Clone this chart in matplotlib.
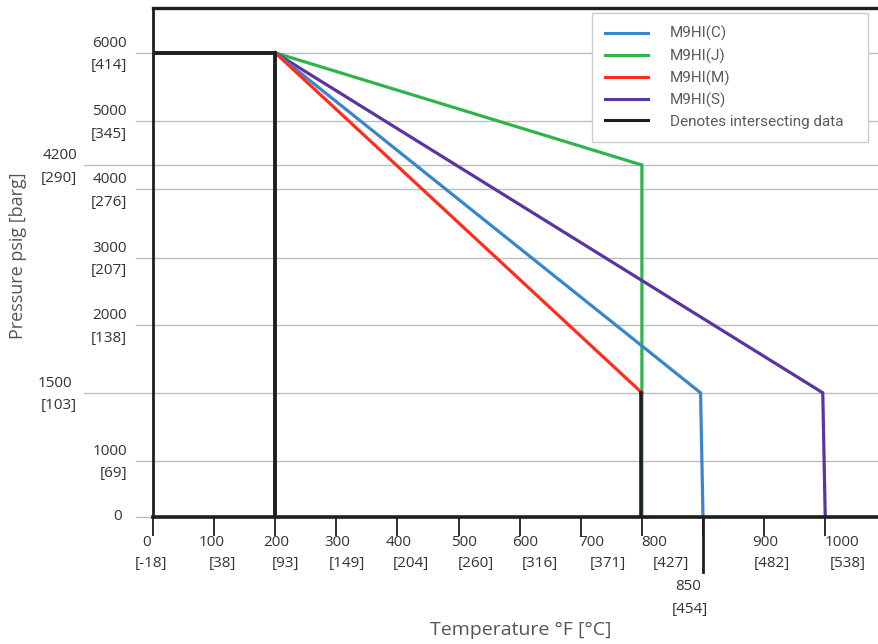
import numpy as np
import matplotlib.pyplot as plt
from matplotlib.lines import Line2D

# pressure-temperature derating, psig vs deg F
temp_C = [200, 848, 850]
pres_C = [6000, 1500, 0]
temp_J = [200, 800, 800]
pres_J = [6000, 4200, 0]
temp_M = [200, 800]
pres_M = [6000, 1500]
temp_S = [200, 996, 1000]
pres_S = [6000, 1500, 0]
# black = intersecting data
temp_K1 = [0, 200, 200]
pres_K1 = [6000, 6000, 0]
temp_K2 = [800, 800]
pres_K2 = [1500, 0]

names = ['M9HI(C)', 'M9HI(J)', 'M9HI(M)', 'M9HI(S)', 'Denotes intersecting data']

xticks_F = [0, 100, 200, 300, 400, 500, 600, 700, 800, 850, 900, 1000]
xticks_C = ['[-18]', '[38]', '[93]', '[149]', '[204]', '[260]', '[316]', '[371]',
            '[427]', '[454]', '[482]', '[538]']
yticks_psig = [0, 1000, 1500, 2000, 3000, 4000, 4200, 5000, 6000]
yticks_barg = ['', '[69]', '[103]', '[138]', '[207]', '[276]', '[290]', '[345]', '[414]']

col_C = '#3a86c8'
col_J = '#2fb44b'
col_M = '#ff2d1e'
col_S = '#5a35a0'
col_K = '#1e1e1e'
txt = '#333333'
font = 'Open Sans'

# the axes of the original chart are not linear: piecewise mapping
x_knots = [0, 100, 200, 300, 400, 500, 600, 700, 800, 850, 900, 1000, 1100]
x_pos = np.arange(len(x_knots), dtype=float)
y_knots = [0, 1000, 1500, 2000, 3000, 4000, 4200, 5000, 6000, 7000]
y_pos = [0, 56.5, 124.2, 191.6, 259.5, 327.6, 352.0, 395.6, 464.2, 532.2]

fx = lambda v: np.interp(v, x_knots, x_pos)
ifx = lambda p: np.interp(p, x_pos, x_knots)
fy = lambda v: np.interp(v, y_knots, y_pos)
ify = lambda p: np.interp(p, y_pos, y_knots)

fig = plt.figure(figsize=(8.79, 6.44), dpi=100)
ax = fig.add_axes([153/879, 1-517/644, 726/879, 509/644])
ax.set_xscale('function', functions=(fx, ifx))
ax.set_yscale('function', functions=(fy, ify))
ax.set_xlim(0, 1088)
ax.set_ylim(0, 6659)

# grid lines reach out into the label area
for v in yticks_psig:
    xmin = -69/726 if v in (1500, 4200) else -17/726
    ax.axhline(v, xmin=xmin, xmax=1, color='#bdbdbd', lw=1.0, clip_on=False, zorder=1)

lw = 2.3
ax.plot(temp_J, pres_J, color=col_J, lw=lw, zorder=3, solid_joinstyle='miter')
ax.plot(temp_S, pres_S, color=col_S, lw=lw, zorder=3, solid_joinstyle='miter')
ax.plot(temp_C, pres_C, color=col_C, lw=lw, zorder=3, solid_joinstyle='miter')
ax.plot(temp_M, pres_M, color=col_M, lw=lw, zorder=3, solid_joinstyle='miter')
ax.plot(temp_K1, pres_K1, color=col_K, lw=2.8, zorder=4, solid_joinstyle='miter')
ax.plot([t - 1.5 for t in temp_K2], pres_K2, color=col_K, lw=2.6, zorder=4)

for s in ['top', 'left', 'bottom']:
    ax.spines[s].set_color(col_K)
ax.spines['top'].set_linewidth(2.4)
ax.spines['bottom'].set_linewidth(2.6)
ax.spines['left'].set_linewidth(2.0)
ax.spines['right'].set_visible(False)
for s in ax.spines.values():
    s.set_zorder(5)

ax.set_xticks(xticks_F, labels=[])
ax.set_yticks([])
ax.minorticks_off()
ax.tick_params(axis='x', length=14, width=1.3, color=col_K, direction='out')
# the 850 tick hangs down further
ax.axvline(850, ymin=-55/509, ymax=0, color=col_K, lw=2.0, clip_on=False)

# x tick labels, two rows (F over C)
off_top = [-6, -2, 1.5, 1, 1.5, 5, 5, 10, 12, -15, 1, 17]
off_bot = [-2, 8, 10, 11, 13, 17, 20, 27, 29, -13, 8, 23]
for v, c, d1, d2 in zip(xticks_F, xticks_C, off_top, off_bot):
    drop = 45 if v == 850 else 0
    ax.annotate(str(v), (v, 0), xycoords=('data', 'axes fraction'),
                xytext=(d1, -25 - drop), textcoords='offset pixels',
                ha='center', va='center', fontsize=11, color=txt, family=font)
    ax.annotate(c, (v, 0), xycoords=('data', 'axes fraction'),
                xytext=(d2, -47 - drop), textcoords='offset pixels',
                ha='center', va='center', fontsize=11, color=txt, family=font)

# y tick labels
for v, b in zip(yticks_psig, yticks_barg):
    dx = -76 if v in (1500, 4200) else -26
    if v == 0:
        ax.annotate('0', (0, v), xycoords=('axes fraction', 'data'),
                    xytext=(-31, 0), textcoords='offset pixels',
                    ha='right', va='center', fontsize=11, color=txt, family=font)
        continue
    ax.annotate(str(v), (0, v), xycoords=('axes fraction', 'data'),
                xytext=(dx - (5 if v == 1500 else 0), 9.5), textcoords='offset pixels',
                ha='right', va='center', fontsize=11, color=txt, family=font)
    ax.annotate(b, (0, v), xycoords=('axes fraction', 'data'),
                xytext=(dx, -13), textcoords='offset pixels',
                ha='right', va='center', fontsize=11, color=txt, family=font)

fig.text(18/879, 1-256/644, 'Pressure psig [barg]', rotation=90, ha='center', va='center',
         fontsize=13, color='#555555', family=font)
fig.text(521/879, 1-630/644, 'Temperature °F [°C]', ha='center', va='center',
         fontsize=14, color='#555555', family=font)

handles = [Line2D([], [], color=c, lw=2.2) for c in (col_C, col_J, col_M, col_S, col_K)]
leg = fig.legend(handles, names, loc='upper left',
                 bbox_to_anchor=(592/879, 1-140/644, 276/879, 127/644), mode='expand',
                 frameon=True, fancybox=False, edgecolor='#cccccc', framealpha=1,
                 prop={'family': 'Roboto', 'size': 11}, labelcolor='#5a5a5a',
                 handlelength=2.8, handletextpad=1.45, labelspacing=0.45,
                 borderpad=0.85, borderaxespad=0)
leg.get_frame().set_linewidth(1.0)
leg.set_zorder(10)

plt.savefig('out.png', dpi=100)
